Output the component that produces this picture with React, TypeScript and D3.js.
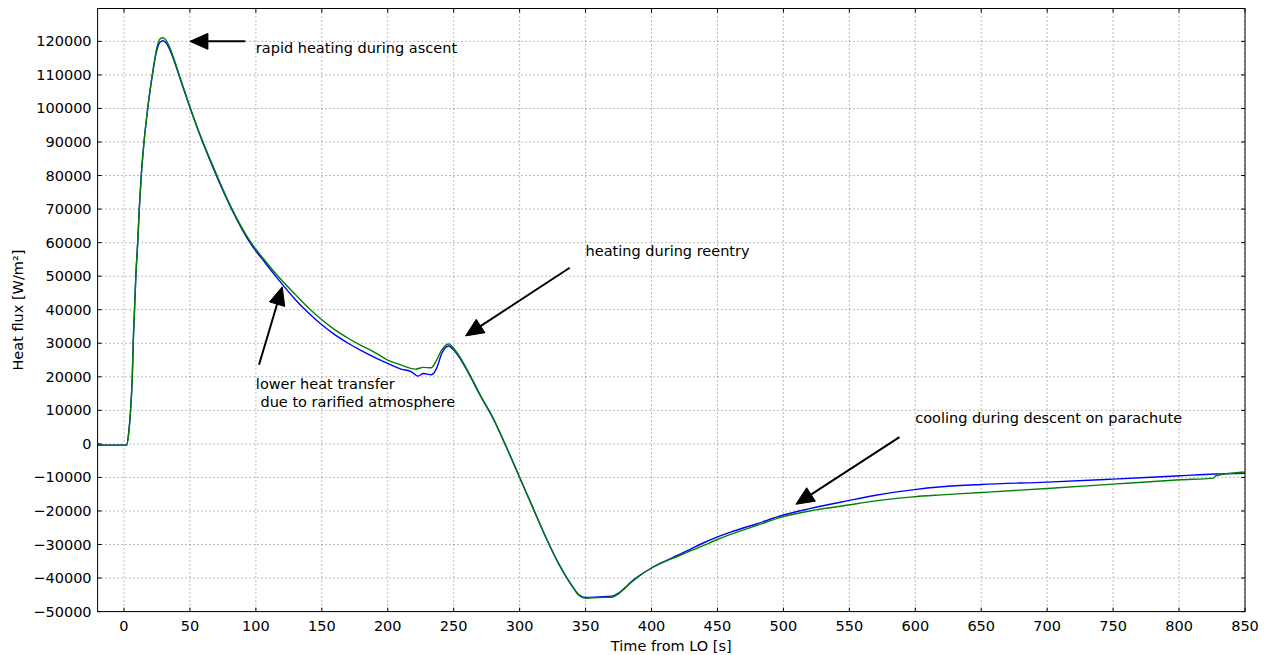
import React from "react";
import * as d3 from "d3";

const blueT = [-20, 2, 3.5, 5, 6.3, 7, 8, 9, 10.4, 11.6, 13.1, 15.2, 18, 21.5, 25, 27.5, 29.5, 32, 35, 38, 41, 45, 50, 55, 60, 70, 81.6, 95.5, 107, 115, 130, 140, 150, 160, 170, 180, 190, 200, 210, 218, 223, 227, 233, 237, 241, 246, 251, 260, 270, 280, 290, 300, 310, 320, 330, 340, 345, 350, 360, 370, 375, 380, 385, 390, 400, 410, 420, 429, 440, 450, 460, 480, 500, 520, 548, 570, 598, 620, 650, 700, 750, 801, 827, 850];
const blueV = [-400, -400, 3000, 10000, 20000, 30000, 40000, 50000, 60000, 70000, 80000, 90000, 100000, 110000, 117500, 119800, 120200, 119500, 117300, 114200, 110700, 106000, 100300, 94800, 89600, 80000, 70000, 60000, 54000, 50000, 43000, 39000, 35500, 32500, 30000, 27800, 25800, 24000, 22300, 21500, 20200, 21000, 20600, 22500, 27000, 29200, 27500, 22000, 14500, 7500, -1000, -10000, -19000, -28000, -36000, -42500, -45000, -45800, -45600, -45400, -44500, -42800, -41000, -39500, -37000, -35000, -33200, -31500, -29400, -27700, -26300, -23800, -21200, -19300, -17000, -15300, -13700, -12800, -12100, -11400, -10500, -9500, -9000, -8800];

const greenT = [-20, 2, 3.5, 5, 6.3, 7, 8, 9, 10.4, 11.6, 13.1, 15.2, 18, 21.5, 25, 27.5, 29.2, 32, 35, 38, 41, 45, 50, 55, 60, 70, 81.6, 95.5, 107, 115, 130, 140, 150, 160, 170, 180, 190, 200, 209, 221, 227, 233, 236, 241, 246, 251, 260, 270, 280, 290, 300, 310, 320, 330, 340, 345, 350, 360, 370, 375, 380, 385, 390, 400, 410, 420, 429, 440, 450, 460, 480, 500, 520, 548, 570, 598, 620, 650, 700, 750, 801, 826, 828, 850];
const greenV = [-400, -400, 3000, 10000, 20000, 30000, 40000, 50000, 60000, 70000, 80000, 90000, 100000, 110000, 118300, 120800, 121100, 120300, 117900, 114700, 111100, 106300, 100500, 95000, 89900, 80500, 70300, 60500, 54600, 50800, 44500, 40500, 37000, 34000, 31500, 29300, 27300, 25000, 23700, 22300, 22800, 22700, 24200, 28000, 29800, 28000, 22300, 14700, 7600, -1000, -10000, -19000, -28000, -36000, -42500, -45200, -46000, -45800, -45700, -44700, -43000, -41200, -39600, -37000, -35100, -33500, -32000, -30200, -28500, -27000, -24300, -21700, -20000, -18300, -17000, -15800, -15200, -14500, -13300, -12000, -10700, -10200, -9500, -8400];

const xTicks = [0, 50, 100, 150, 200, 250, 300, 350, 400, 450, 500, 550, 600, 650, 700, 750, 800, 850];
const yTicks = [-50000, -40000, -30000, -20000, -10000, 0, 10000, 20000, 30000, 40000, 50000, 60000, 70000, 80000, 90000, 100000, 110000, 120000];

const annotationTexts = [
  ["rapid heating during ascent"],
  ["lower heat transfer", " due to rarified atmosphere"],
  ["heating during reentry"],
  ["cooling during descent on parachute"],
];
// [tipT, tipV, tailT, tailV, textT, textV]
const annotationPoints = [
  [50, 120000, 92, 120000, 100, 116500],
  [120, 46800, 102.4, 23600, 100, 16400],
  [259, 32200, 338, 52500, 350, 56000],
  [509.5, -18000, 588, 2000, 600, 6300],
];

const W = 1266;
const H = 655;
const FONT = "DejaVu Sans, sans-serif";
const FS = 14.5;

export default function App() {
  const x = d3.scaleLinear().domain([-20, 850]).range([97.6, 1245]);
  const y = d3.scaleLinear().domain([-50000, 129800]).range([611.6, 8.5]);
  const left = x(-20), right = x(850), top = y(129800), bottom = y(-50000);
  const fmt = d3.format("d");

  const mk = (T: number[], V: number[]) =>
    d3.line<number>().x((_, i) => x(T[i])).y((v) => y(v)).curve(d3.curveMonotoneX)(V) || "";

  const arrows = annotationPoints.map((p, i) => {
    const tx = x(p[0]), ty = y(p[1]), sx = x(p[2]), sy = y(p[3]);
    const dx = tx - sx, dy = ty - sy;
    const len = Math.hypot(dx, dy);
    const ux = dx / len, uy = dy / len;
    const hl = 18, hw = 8;
    const bx = tx - ux * hl, by = ty - uy * hl;
    const px = -uy, py = ux;
    const head = `M${tx},${ty}L${bx + px * hw},${by + py * hw}L${bx - px * hw},${by - py * hw}Z`;
    return (
      <g key={"a" + i}>
        <line x1={sx} y1={sy} x2={bx + ux * 2} y2={by + uy * 2} stroke="#000" strokeWidth={2} />
        <path d={head} fill="#000" stroke="#000" strokeWidth={1} />
        <text x={x(p[4])} y={y(p[5])} fontSize={FS} fontFamily={FONT} fill="#000" style={{ whiteSpace: "pre" }}>
          {annotationTexts[i].map((s, j) => (
            <tspan key={j} x={x(p[4])} dy={j === 0 ? 0 : 18}>{s}</tspan>
          ))}
        </text>
      </g>
    );
  });

  return (
    <svg width={W} height={H} style={{ position: "absolute", left: 0, top: 0, background: "#fff" }}>
      <rect x={0} y={0} width={W} height={H} fill="#fff" />
      <g>
        {xTicks.map((t) => (
          <line key={"gx" + t} x1={x(t)} x2={x(t)} y1={top} y2={bottom} stroke="#777" strokeWidth={1} strokeDasharray="1,3" />
        ))}
        {yTicks.map((t) => (
          <line key={"gy" + t} x1={left} x2={right} y1={y(t)} y2={y(t)} stroke="#777" strokeWidth={1} strokeDasharray="1,3" />
        ))}
      </g>
      <defs>
        <clipPath id="clip">
          <rect x={left} y={top} width={right - left} height={bottom - top} />
        </clipPath>
      </defs>
      <g clipPath="url(#clip)">
        <path d={mk(blueT, blueV)} fill="none" stroke="#0000ff" strokeWidth={1.4} />
        <path d={mk(greenT, greenV)} fill="none" stroke="#008000" strokeWidth={1.4} />
      </g>
      {arrows}
      <g>
        {xTicks.map((t) => (
          <g key={"tx" + t}>
            <line x1={x(t)} x2={x(t)} y1={bottom} y2={bottom - 4} stroke="#000" />
            <line x1={x(t)} x2={x(t)} y1={top} y2={top + 4} stroke="#000" />
            <text x={x(t)} y={631} textAnchor="middle" fontSize={FS} fontFamily={FONT} fill="#000">{fmt(t)}</text>
          </g>
        ))}
        {yTicks.map((t) => (
          <g key={"ty" + t}>
            <line x1={left} x2={left + 4} y1={y(t)} y2={y(t)} stroke="#000" />
            <line x1={right} x2={right - 4} y1={y(t)} y2={y(t)} stroke="#000" />
            <text x={left - 6} y={y(t) + 5} textAnchor="end" fontSize={FS} fontFamily={FONT} fill="#000">{fmt(t)}</text>
          </g>
        ))}
      </g>
      <rect x={left} y={top} width={right - left} height={bottom - top} fill="none" stroke="#000" strokeWidth={1} />
      <text x={(left + right) / 2} y={651} textAnchor="middle" fontSize={FS} fontFamily={FONT} fill="#000">Time from LO [s]</text>
      <text transform={`translate(23,${(top + bottom) / 2}) rotate(-90)`} textAnchor="middle" fontSize={FS} fontFamily={FONT} fill="#000">Heat flux [W/m²]</text>
    </svg>
  );
}
